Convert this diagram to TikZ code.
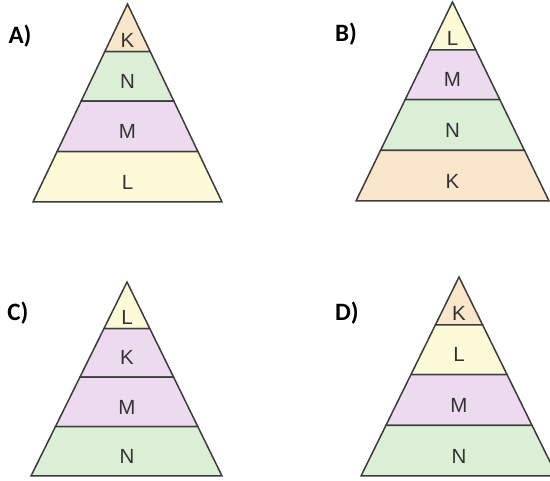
\documentclass[tikz,border=0pt]{standalone}
\usepackage{fontspec}
\setmainfont{Liberation Sans}
\newfontfamily\tagfont{Carlito}
\usetikzlibrary{calc}

\definecolor{kpeach}{HTML}{FAE6CB}
\definecolor{ngreen}{HTML}{DAEFD6}
\definecolor{mpurple}{HTML}{ECDAEE}
\definecolor{lyellow}{HTML}{FDFBD7}
\definecolor{edgegrey}{HTML}{3C3C3C}
\definecolor{textgrey}{HTML}{333333}

\tikzset{
  layer/.style={draw=edgegrey, line width=1.5pt},
  letter/.style={text=textgrey, font=\fontsize{20.5}{20.5}\selectfont, inner sep=0pt},
  tag/.style={font=\tagfont\bfseries\fontsize{25}{25}\selectfont, inner sep=0pt}
}

\begin{document}
\begin{tikzpicture}[x=1pt,y=-1pt]
\useasboundingbox (0,0) rectangle (550,481);

% A
\coordinate (A-top) at (127.5,4);
\coordinate (A-left) at (33,202);
\coordinate (A-right) at (222,202);
\coordinate (A-base) at (127.5,202);
\node[tag] (A-tag) at (20,36) {A)};
\foreach \f/\g/\m/\col/\txt [count=\i] in {0/.24/.185/kpeach/K, .24/.49/.39/ngreen/N, .49/.745/.645/mpurple/M, .745/1/.9/lyellow/L} {
  \filldraw[layer, fill=\col] ($(A-top)!\f!(A-left)$) -- ($(A-top)!\g!(A-left)$) -- ($(A-top)!\g!(A-right)$) -- ($(A-top)!\f!(A-right)$) -- cycle;
  \node[letter] (A-\i) at ($(A-top)!\m!(A-base)$) {\txt};
}

% B
\coordinate (B-top) at (452.5,2);
\coordinate (B-left) at (356,201);
\coordinate (B-right) at (549,201);
\coordinate (B-base) at (452.5,201);
\node[tag] (B-tag) at (346,34) {B)};
\foreach \f/\g/\m/\col/\txt [count=\i] in {0/.24/.185/lyellow/L, .24/.49/.39/mpurple/M, .49/.745/.645/ngreen/N, .745/1/.9/kpeach/K} {
  \filldraw[layer, fill=\col] ($(B-top)!\f!(B-left)$) -- ($(B-top)!\g!(B-left)$) -- ($(B-top)!\g!(B-right)$) -- ($(B-top)!\f!(B-right)$) -- cycle;
  \node[letter] (B-\i) at ($(B-top)!\m!(B-base)$) {\txt};
}

% C
\coordinate (C-top) at (127,282);
\coordinate (C-left) at (31,476);
\coordinate (C-right) at (222,476);
\coordinate (C-base) at (127,476);
\node[tag] (C-tag) at (18,313) {C)};
\foreach \f/\g/\m/\col/\txt [count=\i] in {0/.24/.185/lyellow/L, .24/.49/.39/mpurple/K, .49/.745/.645/mpurple/M, .745/1/.9/ngreen/N} {
  \filldraw[layer, fill=\col] ($(C-top)!\f!(C-left)$) -- ($(C-top)!\g!(C-left)$) -- ($(C-top)!\g!(C-right)$) -- ($(C-top)!\f!(C-right)$) -- cycle;
  \node[letter] (C-\i) at ($(C-top)!\m!(C-base)$) {\txt};
}

% D
\coordinate (D-top) at (459,277);
\coordinate (D-left) at (361,476);
\coordinate (D-right) at (557,476);
\coordinate (D-base) at (459,476);
\node[tag] (D-tag) at (347,313) {D)};
\foreach \f/\g/\m/\col/\txt [count=\i] in {0/.24/.185/kpeach/K, .24/.49/.39/lyellow/L, .49/.745/.645/mpurple/M, .745/1/.9/ngreen/N} {
  \filldraw[layer, fill=\col] ($(D-top)!\f!(D-left)$) -- ($(D-top)!\g!(D-left)$) -- ($(D-top)!\g!(D-right)$) -- ($(D-top)!\f!(D-right)$) -- cycle;
  \node[letter] (D-\i) at ($(D-top)!\m!(D-base)$) {\txt};
}
\end{tikzpicture}
\end{document}
